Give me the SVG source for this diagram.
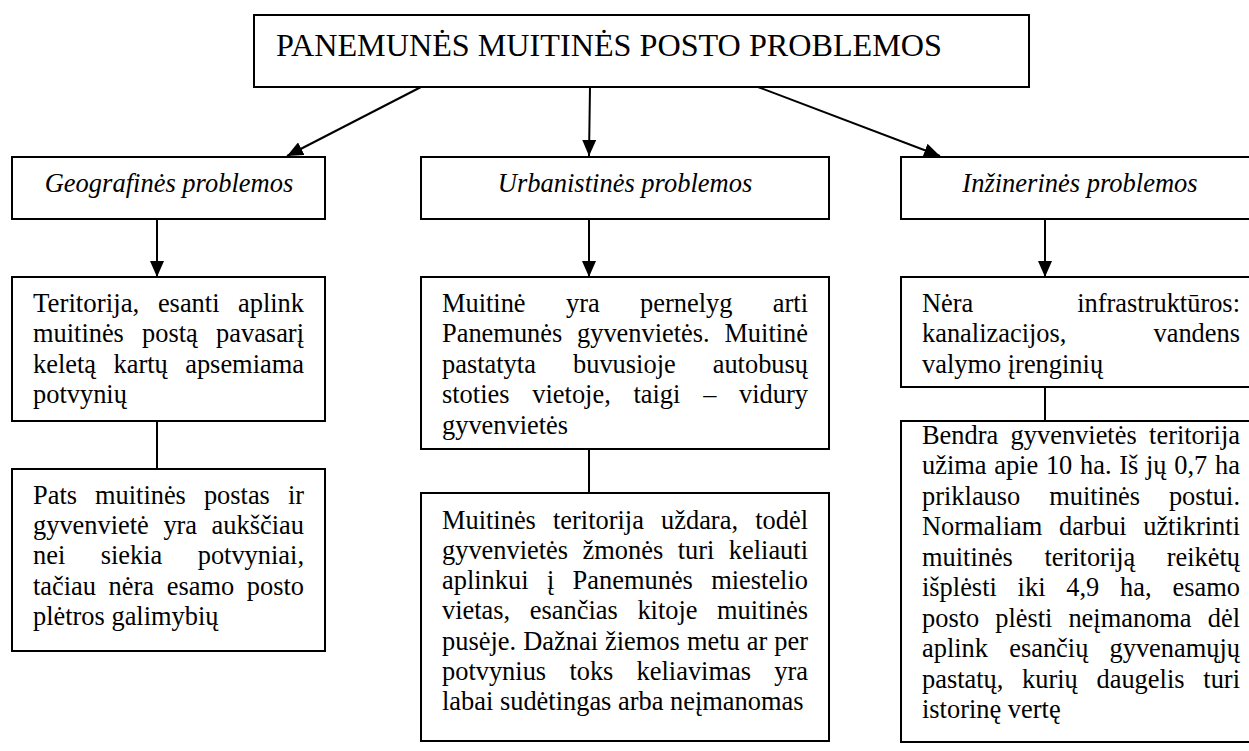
<svg xmlns="http://www.w3.org/2000/svg" width="1249" height="751" viewBox="0 0 1249 751">
<defs>
<style>
.box{fill:#fff;stroke:#000;stroke-width:2}
.ln{stroke:#000;stroke-width:2;fill:none}
.t text{font-family:'Liberation Serif','Times New Roman',serif;font-size:26.4px;fill:#000}
.h{font-family:'Liberation Serif','Times New Roman',serif;font-size:26.4px;font-style:italic;fill:#000}
.title{font-family:'Liberation Serif','Times New Roman',serif;font-size:32px;fill:#000}
</style>
<marker id="arr" markerUnits="userSpaceOnUse" markerWidth="16" markerHeight="14" refX="16" refY="7" orient="auto">
<path d="M0,0 L16,7 L0,14 Z" fill="#000"/>
</marker>
</defs>
<rect width="1249" height="751" fill="#fff"/>
<g id="connectors">
<line class="ln" x1="421" y1="87" x2="287" y2="156" marker-end="url(#arr)"/>
<line class="ln" x1="590" y1="87" x2="589" y2="156" marker-end="url(#arr)"/>
<line class="ln" x1="758" y1="87" x2="940" y2="156" marker-end="url(#arr)"/>
<line class="ln" x1="157" y1="219" x2="157" y2="277" marker-end="url(#arr)"/>
<line class="ln" x1="589" y1="219" x2="589" y2="277" marker-end="url(#arr)"/>
<line class="ln" x1="1045" y1="219" x2="1045" y2="277" marker-end="url(#arr)"/>
<line class="ln" x1="157" y1="421" x2="157" y2="469"/>
<line class="ln" x1="589" y1="449" x2="589" y2="493"/>
<line class="ln" x1="1045" y1="387" x2="1045" y2="421"/>
</g>
<g id="title">
<rect class="box" x="254" y="15" width="775" height="72"/>
<text class="title" x="276" y="56" textLength="666" lengthAdjust="spacingAndGlyphs">PANEMUNĖS MUITINĖS POSTO PROBLEMOS</text>
</g>
<g id="geo">
<rect class="box" x="12" y="157" width="313" height="62"/>
<text class="h" x="44.7" y="192" textLength="248.6" lengthAdjust="spacingAndGlyphs">Geografinės problemos</text>
</g>
<g id="urb">
<rect class="box" x="421" y="157" width="408" height="62"/>
<text class="h" x="497.8" y="192" textLength="254.5" lengthAdjust="spacingAndGlyphs">Urbanistinės problemos</text>
</g>
<g id="inz">
<rect class="box" x="901" y="157" width="358" height="62"/>
<text class="h" x="962.3" y="192" textLength="235.4" lengthAdjust="spacingAndGlyphs">Inžinerinės problemos</text>
</g>
<g id="geo1" class="t">
<rect class="box" x="12" y="277" width="313" height="144"/>
<text x="33" y="312" textLength="106.3" lengthAdjust="spacingAndGlyphs">Teritorija,</text>
<text x="157.9" y="312" textLength="61.6" lengthAdjust="spacingAndGlyphs">esanti</text>
<text x="238" y="312" textLength="66" lengthAdjust="spacingAndGlyphs">aplink</text>
<text x="33" y="342.4" textLength="90.9" lengthAdjust="spacingAndGlyphs">muitinės</text>
<text x="142.1" y="342.4" textLength="55.7" lengthAdjust="spacingAndGlyphs">postą</text>
<text x="216" y="342.4" textLength="88" lengthAdjust="spacingAndGlyphs">pavasarį</text>
<text x="33" y="372.8" textLength="63" lengthAdjust="spacingAndGlyphs">keletą</text>
<text x="113.5" y="372.8" textLength="54.3" lengthAdjust="spacingAndGlyphs">kartų</text>
<text x="185.2" y="372.8" textLength="118.8" lengthAdjust="spacingAndGlyphs">apsemiama</text>
<text x="33" y="403.2" textLength="93.9" lengthAdjust="spacingAndGlyphs">potvynių</text>
</g>
<g id="geo2" class="t">
<rect class="box" x="12" y="469" width="313" height="182"/>
<text x="33" y="503.5" textLength="44" lengthAdjust="spacingAndGlyphs">Pats</text>
<text x="95" y="503.5" textLength="90.9" lengthAdjust="spacingAndGlyphs">muitinės</text>
<text x="203.9" y="503.5" textLength="66" lengthAdjust="spacingAndGlyphs">postas</text>
<text x="287.9" y="503.5" textLength="16.1" lengthAdjust="spacingAndGlyphs">ir</text>
<text x="33" y="533.9" textLength="115.8" lengthAdjust="spacingAndGlyphs">gyvenvietė</text>
<text x="163.4" y="533.9" textLength="33.7" lengthAdjust="spacingAndGlyphs">yra</text>
<text x="211.6" y="533.9" textLength="92.4" lengthAdjust="spacingAndGlyphs">aukščiau</text>
<text x="33" y="564.3" textLength="32.3" lengthAdjust="spacingAndGlyphs">nei</text>
<text x="100.7" y="564.3" textLength="61.6" lengthAdjust="spacingAndGlyphs">siekia</text>
<text x="197.7" y="564.3" textLength="106.3" lengthAdjust="spacingAndGlyphs">potvyniai,</text>
<text x="33" y="594.7" textLength="63" lengthAdjust="spacingAndGlyphs">tačiau</text>
<text x="108.6" y="594.7" textLength="45.4" lengthAdjust="spacingAndGlyphs">nėra</text>
<text x="166.7" y="594.7" textLength="67.5" lengthAdjust="spacingAndGlyphs">esamo</text>
<text x="246.8" y="594.7" textLength="57.2" lengthAdjust="spacingAndGlyphs">posto</text>
<text x="33" y="625.1" textLength="185.5" lengthAdjust="spacingAndGlyphs">plėtros galimybių</text>
</g>
<g id="urb1" class="t">
<rect class="box" x="421" y="277" width="408" height="172"/>
<text x="442" y="312" textLength="83.6" lengthAdjust="spacingAndGlyphs">Muitinė</text>
<text x="566" y="312" textLength="33.7" lengthAdjust="spacingAndGlyphs">yra</text>
<text x="640" y="312" textLength="92.4" lengthAdjust="spacingAndGlyphs">pernelyg</text>
<text x="772.8" y="312" textLength="35.2" lengthAdjust="spacingAndGlyphs">arti</text>
<text x="442" y="342.4" textLength="120.3" lengthAdjust="spacingAndGlyphs">Panemunės</text>
<text x="577" y="342.4" textLength="132.7" lengthAdjust="spacingAndGlyphs">gyvenvietės.</text>
<text x="724.4" y="342.4" textLength="83.6" lengthAdjust="spacingAndGlyphs">Muitinė</text>
<text x="442" y="372.8" textLength="93.9" lengthAdjust="spacingAndGlyphs">pastatyta</text>
<text x="573" y="372.8" textLength="102.7" lengthAdjust="spacingAndGlyphs">buvusioje</text>
<text x="712.7" y="372.8" textLength="95.3" lengthAdjust="spacingAndGlyphs">autobusų</text>
<text x="442" y="403.2" textLength="67.5" lengthAdjust="spacingAndGlyphs">stoties</text>
<text x="532.3" y="403.2" textLength="78.5" lengthAdjust="spacingAndGlyphs">vietoje,</text>
<text x="633.5" y="403.2" textLength="46.9" lengthAdjust="spacingAndGlyphs">taigi</text>
<text x="703.2" y="403.2" textLength="13.2" lengthAdjust="spacingAndGlyphs">–</text>
<text x="739.1" y="403.2" textLength="68.9" lengthAdjust="spacingAndGlyphs">vidury</text>
<text x="442" y="433.6" textLength="126.1" lengthAdjust="spacingAndGlyphs">gyvenvietės</text>
</g>
<g id="urb2" class="t">
<rect class="box" x="421" y="493" width="408" height="248"/>
<text x="442" y="528.5" textLength="93.9" lengthAdjust="spacingAndGlyphs">Muitinės</text>
<text x="553" y="528.5" textLength="90.9" lengthAdjust="spacingAndGlyphs">teritorija</text>
<text x="661" y="528.5" textLength="77" lengthAdjust="spacingAndGlyphs">uždara,</text>
<text x="755.2" y="528.5" textLength="52.8" lengthAdjust="spacingAndGlyphs">todėl</text>
<text x="442" y="558.8" textLength="126.1" lengthAdjust="spacingAndGlyphs">gyvenvietės</text>
<text x="582.5" y="558.8" textLength="80.7" lengthAdjust="spacingAndGlyphs">žmonės</text>
<text x="677.7" y="558.8" textLength="36.7" lengthAdjust="spacingAndGlyphs">turi</text>
<text x="728.8" y="558.8" textLength="79.2" lengthAdjust="spacingAndGlyphs">keliauti</text>
<text x="442" y="589.1" textLength="86.5" lengthAdjust="spacingAndGlyphs">aplinkui</text>
<text x="546.9" y="589.1" textLength="7.3" lengthAdjust="spacingAndGlyphs">į</text>
<text x="572.6" y="589.1" textLength="120.3" lengthAdjust="spacingAndGlyphs">Panemunės</text>
<text x="711.2" y="589.1" textLength="96.8" lengthAdjust="spacingAndGlyphs">miestelio</text>
<text x="442" y="619.4" textLength="68.2" lengthAdjust="spacingAndGlyphs">vietas,</text>
<text x="529.8" y="619.4" textLength="88" lengthAdjust="spacingAndGlyphs">esančias</text>
<text x="637.4" y="619.4" textLength="60.1" lengthAdjust="spacingAndGlyphs">kitoje</text>
<text x="717.1" y="619.4" textLength="90.9" lengthAdjust="spacingAndGlyphs">muitinės</text>
<text x="442" y="649.7" textLength="74.1" lengthAdjust="spacingAndGlyphs">pusėje.</text>
<text x="523.2" y="649.7" textLength="74.8" lengthAdjust="spacingAndGlyphs">Dažnai</text>
<text x="605" y="649.7" textLength="74.8" lengthAdjust="spacingAndGlyphs">žiemos</text>
<text x="686.9" y="649.7" textLength="52.8" lengthAdjust="spacingAndGlyphs">metu</text>
<text x="746.8" y="649.7" textLength="20.5" lengthAdjust="spacingAndGlyphs">ar</text>
<text x="774.3" y="649.7" textLength="33.7" lengthAdjust="spacingAndGlyphs">per</text>
<text x="442" y="680" textLength="104.1" lengthAdjust="spacingAndGlyphs">potvynius</text>
<text x="569.4" y="680" textLength="44" lengthAdjust="spacingAndGlyphs">toks</text>
<text x="636.6" y="680" textLength="114.4" lengthAdjust="spacingAndGlyphs">keliavimas</text>
<text x="774.3" y="680" textLength="33.7" lengthAdjust="spacingAndGlyphs">yra</text>
<text x="442" y="710.3" textLength="361.5" lengthAdjust="spacingAndGlyphs">labai sudėtingas arba neįmanomas</text>
</g>
<g id="inz1" class="t">
<rect class="box" x="901" y="277" width="358" height="110"/>
<text x="922" y="312" textLength="51.3" lengthAdjust="spacingAndGlyphs">Nėra</text>
<text x="1077.2" y="312" textLength="162.8" lengthAdjust="spacingAndGlyphs">infrastruktūros:</text>
<text x="922" y="342.4" textLength="144.4" lengthAdjust="spacingAndGlyphs">kanalizacijos,</text>
<text x="1153.5" y="342.4" textLength="86.5" lengthAdjust="spacingAndGlyphs">vandens</text>
<text x="922" y="372.8" textLength="181.1" lengthAdjust="spacingAndGlyphs">valymo įrenginių</text>
</g>
<g id="inz2" class="t">
<rect class="box" x="901" y="421" width="358" height="321"/>
<text x="922" y="443.5" textLength="76.2" lengthAdjust="spacingAndGlyphs">Bendra</text>
<text x="1010.6" y="443.5" textLength="126.1" lengthAdjust="spacingAndGlyphs">gyvenvietės</text>
<text x="1149.1" y="443.5" textLength="90.9" lengthAdjust="spacingAndGlyphs">teritorija</text>
<text x="922" y="474" textLength="64.5" lengthAdjust="spacingAndGlyphs">užima</text>
<text x="994.2" y="474" textLength="44" lengthAdjust="spacingAndGlyphs">apie</text>
<text x="1045.9" y="474" textLength="26.4" lengthAdjust="spacingAndGlyphs">10</text>
<text x="1080" y="474" textLength="31.5" lengthAdjust="spacingAndGlyphs">ha.</text>
<text x="1119.2" y="474" textLength="19.1" lengthAdjust="spacingAndGlyphs">Iš</text>
<text x="1146" y="474" textLength="20.5" lengthAdjust="spacingAndGlyphs">jų</text>
<text x="1174.2" y="474" textLength="33" lengthAdjust="spacingAndGlyphs">0,7</text>
<text x="1215.1" y="474" textLength="24.9" lengthAdjust="spacingAndGlyphs">ha</text>
<text x="922" y="504.5" textLength="98.3" lengthAdjust="spacingAndGlyphs">priklauso</text>
<text x="1049.2" y="504.5" textLength="90.9" lengthAdjust="spacingAndGlyphs">muitinės</text>
<text x="1168.9" y="504.5" textLength="71.1" lengthAdjust="spacingAndGlyphs">postui.</text>
<text x="922" y="535" textLength="120.3" lengthAdjust="spacingAndGlyphs">Normaliam</text>
<text x="1059" y="535" textLength="67.5" lengthAdjust="spacingAndGlyphs">darbui</text>
<text x="1143.2" y="535" textLength="96.8" lengthAdjust="spacingAndGlyphs">užtikrinti</text>
<text x="922" y="565.5" textLength="90.9" lengthAdjust="spacingAndGlyphs">muitinės</text>
<text x="1044.4" y="565.5" textLength="90.9" lengthAdjust="spacingAndGlyphs">teritoriją</text>
<text x="1166.7" y="565.5" textLength="73.3" lengthAdjust="spacingAndGlyphs">reikėtų</text>
<text x="922" y="596" textLength="74.8" lengthAdjust="spacingAndGlyphs">išplėsti</text>
<text x="1017.6" y="596" textLength="27.9" lengthAdjust="spacingAndGlyphs">iki</text>
<text x="1066.3" y="596" textLength="33" lengthAdjust="spacingAndGlyphs">4,9</text>
<text x="1120.1" y="596" textLength="31.5" lengthAdjust="spacingAndGlyphs">ha,</text>
<text x="1172.5" y="596" textLength="67.5" lengthAdjust="spacingAndGlyphs">esamo</text>
<text x="922" y="626.5" textLength="57.2" lengthAdjust="spacingAndGlyphs">posto</text>
<text x="995.2" y="626.5" textLength="57.2" lengthAdjust="spacingAndGlyphs">plėsti</text>
<text x="1068.4" y="626.5" textLength="123.2" lengthAdjust="spacingAndGlyphs">neįmanoma</text>
<text x="1207.7" y="626.5" textLength="32.3" lengthAdjust="spacingAndGlyphs">dėl</text>
<text x="922" y="657" textLength="66" lengthAdjust="spacingAndGlyphs">aplink</text>
<text x="1009.2" y="657" textLength="79.2" lengthAdjust="spacingAndGlyphs">esančių</text>
<text x="1109.5" y="657" textLength="130.5" lengthAdjust="spacingAndGlyphs">gyvenamųjų</text>
<text x="922" y="687.5" textLength="81.4" lengthAdjust="spacingAndGlyphs">pastatų,</text>
<text x="1022.1" y="687.5" textLength="55.7" lengthAdjust="spacingAndGlyphs">kurių</text>
<text x="1096.5" y="687.5" textLength="88" lengthAdjust="spacingAndGlyphs">daugelis</text>
<text x="1203.3" y="687.5" textLength="36.7" lengthAdjust="spacingAndGlyphs">turi</text>
<text x="922" y="718" textLength="138.6" lengthAdjust="spacingAndGlyphs">istorinę vertę</text>
</g>
</svg>
